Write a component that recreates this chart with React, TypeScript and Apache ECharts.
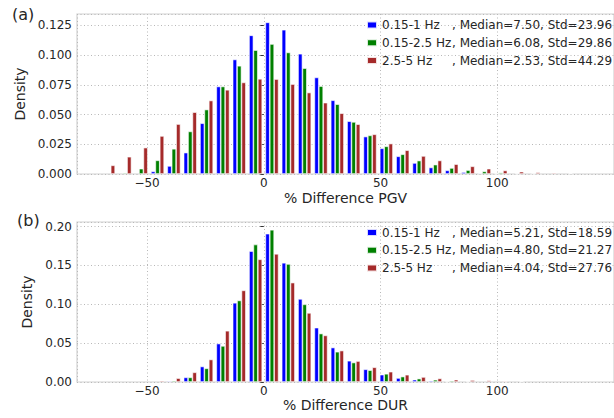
import React, { useEffect, useRef } from "react";
import * as echarts from "echarts";

// Histogram bin centres (% difference), shared by both panels
const binCenters = [
  -66.5, -59.5, -52.5, -45.5, -38.5, -31.5, -24.5, -17.5, -10.5, -3.5,
  3.5, 10.5, 17.5, 24.5, 31.5, 38.5, 45.5, 52.5, 59.5, 66.5,
  73.5, 80.5, 87.5, 94.5, 101.5, 108.5, 115.5, 122.5, 129.5,
];

// Panel (a): PGV
const pgvNames = [
  "0.15-1 Hz, Median=7.50, Std=23.96",
  "0.15-2.5 Hz, Median=6.08, Std=29.86",
  "2.5-5 Hz, Median=2.53, Std=44.29",
];
const pgvLow = [
  0, 0, 0, 0.0022, 0.0068, 0.018, 0.0427, 0.0736, 0.0963, 0.1166,
  0.1275, 0.1213, 0.1011, 0.0812, 0.062, 0.0444, 0.0315, 0.0216, 0.0149, 0.0093,
  0.0055, 0.0031, 0.0016, 0.0007, 0.0003, 0, 0, 0, 0,
];
const pgvMid = [
  0, 0.001, 0.0045, 0.0115, 0.0212, 0.0358, 0.0542, 0.0736, 0.091, 0.1042,
  0.1093, 0.1022, 0.089, 0.0739, 0.0587, 0.0438, 0.0325, 0.0233, 0.0166, 0.0113,
  0.0079, 0.0051, 0.0033, 0.0022, 0.0012, 0.0004, 0.0003, 0, 0,
];
const pgvHigh = [
  0.0073, 0.0145, 0.0222, 0.032, 0.042, 0.052, 0.0618, 0.0708, 0.077, 0.08,
  0.0798, 0.0756, 0.0685, 0.06, 0.0511, 0.0419, 0.0334, 0.0256, 0.02, 0.0152,
  0.0114, 0.0083, 0.0065, 0.0045, 0.003, 0.002, 0.0014, 0.001, 0.0006,
];

// Panel (b): DUR
const durNames = [
  "0.15-1 Hz, Median=5.21, Std=18.59",
  "0.15-2.5 Hz, Median=4.80, Std=21.27",
  "2.5-5 Hz, Median=4.04, Std=27.76",
];
const durLow = [
  0, 0, 0, 0, 0.0013, 0.006, 0.02, 0.0495, 0.102, 0.1686,
  0.191, 0.1535, 0.107, 0.07, 0.0444, 0.0274, 0.0164, 0.0095, 0.0052, 0.003,
  0.0017, 0.0004, 0, 0, 0, 0, 0, 0, 0,
];
const durMid = [
  0, 0, 0, 0, 0.0017, 0.006, 0.0176, 0.0465, 0.105, 0.177,
  0.196, 0.152, 0.1, 0.0624, 0.039, 0.0251, 0.0152, 0.0106, 0.007, 0.0044,
  0.0029, 0.0017, 0.0004, 0, 0, 0, 0, 0, 0,
];
const durHigh = [
  0, 0, 0, 0.0017, 0.005, 0.0125, 0.029, 0.066, 0.118, 0.158,
  0.165, 0.128, 0.089, 0.06, 0.0405, 0.027, 0.019, 0.0133, 0.0094, 0.0065,
  0.0046, 0.003, 0.0025, 0.002, 0.0013, 0.0008, 0, 0, 0,
];

const colors = ["#0000ff", "#008000", "#a52a2a"];
const panelLabels = ["(a)", "(b)"];
const xTitles = ["% Difference PGV", "% Difference DUR"];

const TXT = "#262626";
const FONT = "DejaVu Sans";

export default function App() {
  const ref = useRef<HTMLDivElement>(null);

  useEffect(() => {
    document.body.style.margin = "0";
    const chart = echarts.init(ref.current!, null, { renderer: "svg" });

    const grids = [
      { left: 77, top: 14, width: 541, height: 160 },
      { left: 77, top: 222, width: 541, height: 160 },
    ];

    const fmtX = (v: number) => (v < 0 ? "\u2212" + Math.abs(v) : String(v));

    const nameGaps = [17, 15];
    const xAxes = [0, 1].map((i) => ({
      type: "value",
      gridIndex: i,
      min: -80,
      max: 150,
      splitNumber: 5,
      axisLine: { show: false },
      axisTick: { show: false },
      axisLabel: {
        show: true,
        showMinLabel: false,
        showMaxLabel: false,
        fontSize: 12,
        color: TXT,
        fontFamily: FONT,
        margin: 3,
        formatter: fmtX,
      },
      splitLine: {
        show: true,
        lineStyle: { type: [1, 2.5], color: "#b8b8b8", width: 1 },
      },
      name: xTitles[i],
      nameLocation: "middle",
      nameGap: nameGaps[i],
      nameTextStyle: { fontSize: 14, color: TXT, fontFamily: FONT },
    }));

    const yCfg = [
      { max: 0.1345, interval: 0.025, dec: 3, gap: 42 },
      { max: 0.206, interval: 0.05, dec: 2, gap: 34 },
    ];
    const yAxes = yCfg.map((c, i) => ({
      type: "value",
      gridIndex: i,
      min: 0,
      max: c.max,
      interval: c.interval,
      axisLine: { show: false },
      axisTick: { show: true, length: 3.5, lineStyle: { color: "#333", width: 1 } },
      axisLabel: {
        showMaxLabel: false,
        fontSize: 12,
        color: TXT,
        fontFamily: FONT,
        margin: 5,
        formatter: (v: number) => v.toFixed(c.dec),
      },
      splitLine: {
        show: true,
        lineStyle: { type: [1, 2.5], color: "#b8b8b8", width: 1 },
      },
      name: "Density",
      nameLocation: "middle",
      nameRotate: 90,
      nameGap: c.gap,
      nameTextStyle: { fontSize: 14, color: TXT, fontFamily: FONT },
    }));

    const panels = [
      { names: pgvNames, data: [pgvLow, pgvMid, pgvHigh] },
      { names: durNames, data: [durLow, durMid, durHigh] },
    ];

    const series: any[] = [];
    panels.forEach((p, gi) => {
      p.data.forEach((vals, si) => {
        series.push({
          type: "bar",
          name: p.names[si],
          xAxisIndex: gi,
          yAxisIndex: gi,
          barWidth: 4.4,
          barGap: "0%",
          itemStyle: {
            color: colors[si],
            borderColor: "rgba(255,255,255,0.85)",
            borderWidth: 0.7,
          },
          data: binCenters.map((c, k) => [c, vals[k] > 0 ? vals[k] : "-"]),
        });
      });
    });

    const legendFormatter = (name: string) => {
      const idx = name.indexOf(",");
      return `{a|${name.slice(0, idx)}}{b|${name.slice(idx)}}`;
    };

    const legends = [19, 226.5].map((top, gi) => ({
      data: panels[gi].names,
      left: 366,
      top,
      padding: 0,
      orient: "vertical",
      icon: "rect",
      itemWidth: 10,
      itemHeight: 7,
      itemGap: 5.8,
      selectedMode: false,
      formatter: legendFormatter,
      textStyle: {
        color: TXT,
        fontSize: 12,
        fontFamily: FONT,
        rich: {
          a: { width: 70, fontSize: 12, color: TXT, fontFamily: FONT },
          b: { fontSize: 12, color: TXT, fontFamily: FONT },
        },
      },
    }));

    chart.setOption({
      animation: false,
      backgroundColor: "#ffffff",
      textStyle: { fontFamily: FONT },
      grid: grids.map((g) => ({
        ...g,
        show: true,
        borderColor: "#d2d2d2",
        borderWidth: 1.2,
        backgroundColor: "transparent",
      })),
      xAxis: xAxes,
      yAxis: yAxes,
      legend: legends,
      series,
      graphic: [
        {
          type: "text",
          left: 12,
          top: 6,
          style: { text: panelLabels[0], fontSize: 16, fill: TXT, fontFamily: FONT },
        },
        {
          type: "text",
          left: 17,
          top: 212,
          style: { text: panelLabels[1], fontSize: 16, fill: TXT, fontFamily: FONT },
        },
      ],
    });

    return () => chart.dispose();
  }, []);

  return (
    <div
      ref={ref}
      style={{ position: "fixed", left: 0, top: 0, width: 614, height: 418, background: "#fff" }}
    />
  );
}
